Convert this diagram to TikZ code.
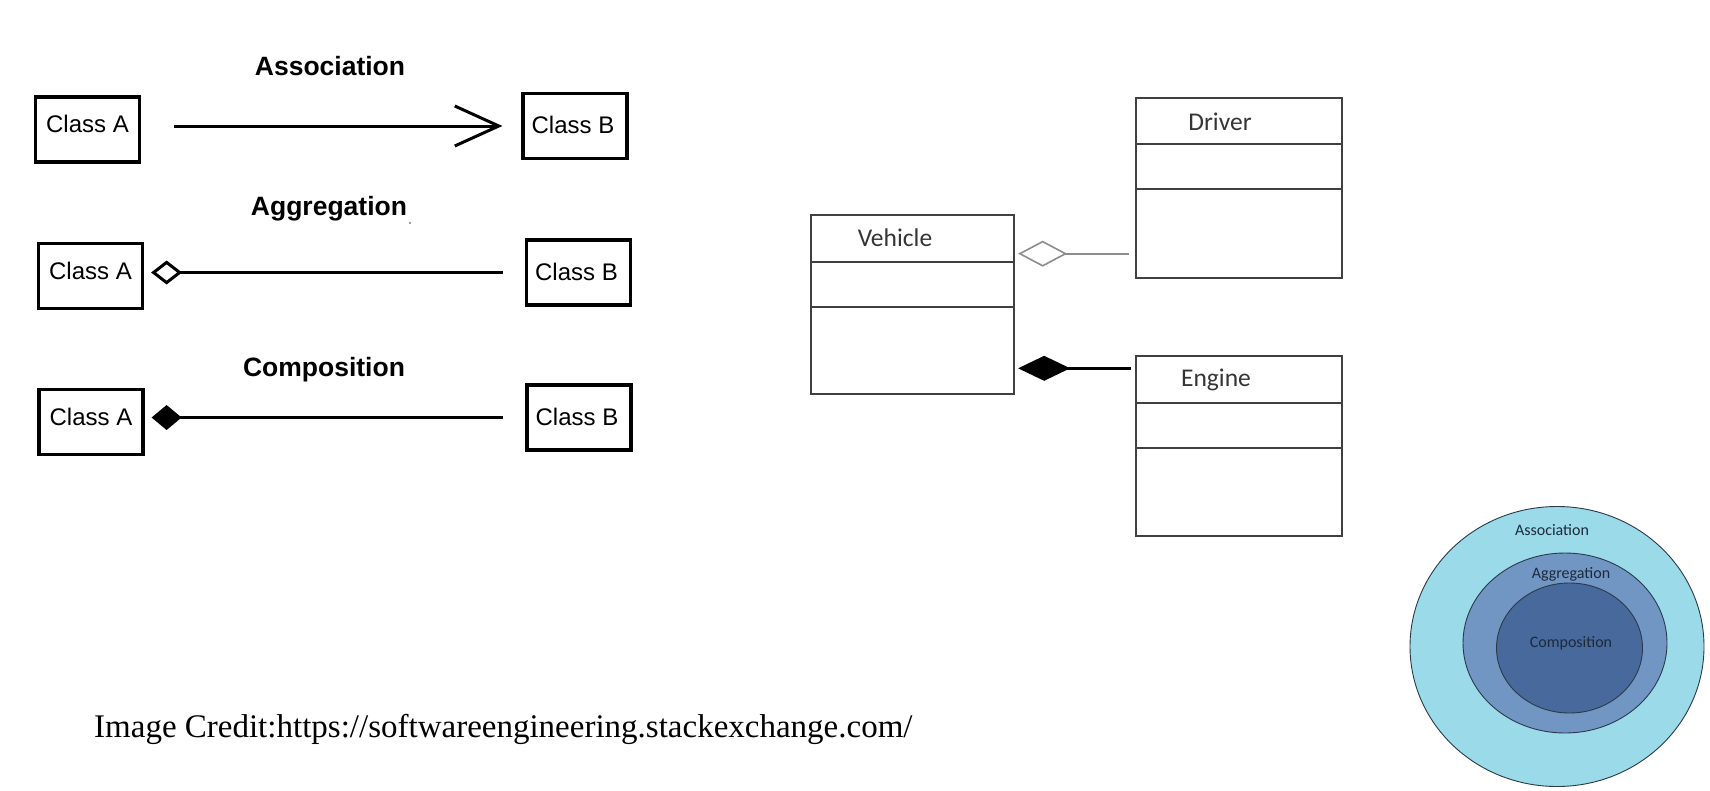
\documentclass[tikz,border=0pt]{standalone}
\usepackage{fontspec}
\setmainfont{Liberation Sans}
\newfontfamily\arialf{Liberation Sans}
\newfontfamily\calf{Carlito}
\newfontfamily\timesf{Liberation Serif}
\usetikzlibrary{arrows.meta}
\definecolor{cyanc}{HTML}{9ADAE9}
\definecolor{midc}{HTML}{7196C4}
\definecolor{deepc}{HTML}{47699B}
\definecolor{boxgray}{HTML}{404040}
\definecolor{txtgray}{HTML}{353535}
\definecolor{ringline}{HTML}{2A3A4A}
\definecolor{circtxt}{HTML}{1C2A3C}
\definecolor{lightline}{HTML}{8C8C8C}
\begin{document}
\begin{tikzpicture}[x=1pt,y=-1pt,
  cbox/.style={draw=black,line width=3.2pt,minimum width=104pt,minimum height=65pt,inner sep=0pt},
  ctext/.style={anchor=base,inner sep=0pt,font=\arialf\fontsize{24pt}{28pt}\selectfont},
  ttl/.style={anchor=base,inner sep=0pt,font=\arialf\bfseries\fontsize{26.5pt}{30pt}\selectfont},
  conn/.style={line width=3pt,black},
  assoc/.style={conn,-{Straight Barb[length=44pt,width=40pt]}},
  aggl/.style={conn,-{Diamond[open,length=31pt,width=24pt]}},
  compl/.style={conn,-{Diamond[length=30pt,width=25pt]}},
  umlbox/.style={draw=boxgray,line width=2.3pt,inner sep=0pt},
  umltext/.style={anchor=base,inner sep=0pt,text=txtgray,font=\calf\fontsize{25.5pt}{30pt}\selectfont},
  ragg/.style={line width=1.6pt,draw=lightline,-{Diamond[open,length=49pt,width=26pt]}},
  rcomp/.style={line width=3pt,black,-{Diamond[length=52pt,width=25pt]}},
  ring/.style={draw=ringline,line width=0.9pt},
  ringtext/.style={anchor=base,inner sep=0pt,text=circtxt,font=\calf\fontsize{16pt}{19pt}\selectfont}
]
\useasboundingbox[fill=white] (0,0) rectangle (1710,790);

% ---- left: three relation kinds ----
\node[ttl] (t1) at (330,75) {Association};
\node[ttl] (t2) at (329,215.5) {Aggregation};
\node[ttl] (t3) at (324,376) {Composition};
\fill[gray] (410,223) circle (1.2pt);

\node[cbox] (a1) at (87.5,129.5) {};
\node[cbox] (b1) at (575,126) {};
\node[cbox] (a2) at (90.5,276) {};
\node[cbox] (b2) at (578.5,272.5) {};
\node[cbox] (a3) at (91,422) {};
\node[cbox] (b3) at (579,417.5) {};

\node[ctext] (a1t) at ([yshift=-3pt]a1.center) {Class A};
\node[ctext] (b1t) at ([yshift=-7.5pt,xshift=-2pt]b1.center) {Class B};
\node[ctext] (a2t) at ([yshift=-3pt]a2.center) {Class A};
\node[ctext] (b2t) at ([yshift=-7.5pt,xshift=-2pt]b2.center) {Class B};
\node[ctext] (a3t) at ([yshift=-3pt]a3.center) {Class A};
\node[ctext] (b3t) at ([yshift=-7.5pt,xshift=-2pt]b3.center) {Class B};

\draw[assoc,shorten <=33pt,shorten >=19pt] (a1.east |- b1.west) -- (b1.west);
\draw[aggl,shorten <=22pt,shorten >=7pt] (b2.west) -- (a2.east |- b2.west);
\draw[compl,shorten <=22pt,shorten >=7pt] (b3.west) -- (a3.east |- b3.west);

% ---- middle: UML class example ----
\node[umlbox,minimum width=203pt,minimum height=179pt] (veh) at (912.5,304.5) {};
\node[umlbox,minimum width=206pt,minimum height=180pt] (drv) at (1239.2,188) {};
\node[umlbox,minimum width=206pt,minimum height=180pt] (eng) at (1239.2,446) {};
\draw[boxgray,line width=2.3pt] (veh.west |- 0,262) -- (veh.east |- 0,262);
\draw[boxgray,line width=2.3pt] (veh.west |- 0,307) -- (veh.east |- 0,307);
\draw[boxgray,line width=2.3pt] (drv.west |- 0,144) -- (drv.east |- 0,144);
\draw[boxgray,line width=2.3pt] (drv.west |- 0,189) -- (drv.east |- 0,189);
\draw[boxgray,line width=2.3pt] (eng.west |- 0,403) -- (eng.east |- 0,403);
\draw[boxgray,line width=2.3pt] (eng.west |- 0,448) -- (eng.east |- 0,448);
\node[umltext] (vehT) at (895,246.5) {Vehicle};
\node[umltext] (drvT) at (1220,130) {Driver};
\node[umltext] (engT) at (1216,386.5) {Engine};

\coordinate (agy) at (1080,253.7);
\coordinate (cpy) at (1080,368.3);
\draw[ragg,shorten <=6pt,shorten >=3pt] (drv.west |- agy) -- (veh.east |- agy);
\draw[rcomp,shorten <=4pt,shorten >=3pt] (eng.west |- cpy) -- (veh.east |- cpy);

% ---- right: nested sets ----
\draw[ring,fill=cyanc] (1557,646.5) ellipse [x radius=147pt, y radius=140pt];
\draw[ring,fill=midc] (1565,643) ellipse [x radius=102pt, y radius=90pt];
\draw[ring,fill=deepc] (1569.5,648) ellipse [x radius=73pt, y radius=65pt];
\node[ringtext] (rAs) at (1552,535.5) {Association};
\node[ringtext] (rAg) at (1571,578) {Aggregation};
\node[ringtext] (rCo) at (1571,647) {Composition};

% ---- credit ----
\node[anchor=base west,inner sep=0pt,font=\timesf\fontsize{33pt}{38pt}\selectfont] (credit) at (94,737) {Image Credit:https://softwareengineering.stackexchange.com/};
\end{tikzpicture}
\end{document}
